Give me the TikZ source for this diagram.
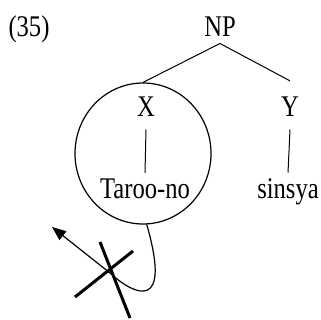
\documentclass[tikz,border=0pt]{standalone}
\usepackage{fontspec}
\setmainfont{Liberation Serif}[FakeStretch=0.82]
\usetikzlibrary{arrows.meta,shapes.geometric}
\begin{document}
\begin{tikzpicture}[x=1pt, y=-1pt, line width=1pt,
  every node/.style={font=\fontsize{30}{32}\selectfont, inner sep=0pt, anchor=base},
  strike/.style={line width=3pt}]
\useasboundingbox (0,0) rectangle (321,320);
\node (ex) at (29,37) {(35)};
\node (NP) at (220,37) {NP};
\node (X) at (146,117) {X};
\node (Y) at (290,117) {Y};
\node (taroo) at (145,199) {Taroo-no};
\node (sinsya) at (288,199) {sinsya};
\node[draw, line width=1.2pt, ellipse, minimum width=136pt, minimum height=141pt, anchor=center] (circ) at (143,153.5) {};
\coordinate (bend) at (110,273);
\coordinate (tip) at (52,227);
\draw ([yshift=-6pt]NP.south) -- (circ.north);
\draw ([yshift=-6pt]NP.south) -- ([yshift=16pt]Y.north);
\draw ([yshift=-12pt]X.south) -- ([yshift=6pt]taroo.north);
\draw ([yshift=-12pt]Y.south) -- ([yshift=6pt]sinsya.north);
\draw[line width=1.2pt, -{Triangle[length=14pt,width=11pt]}] (circ.-87) .. controls (172,312) and (135,296) .. (bend) -- (tip);
\draw[strike] (100,242) -- (130,318);
\draw[strike] (75,297) -- (133,251);
\end{tikzpicture}
\end{document}
